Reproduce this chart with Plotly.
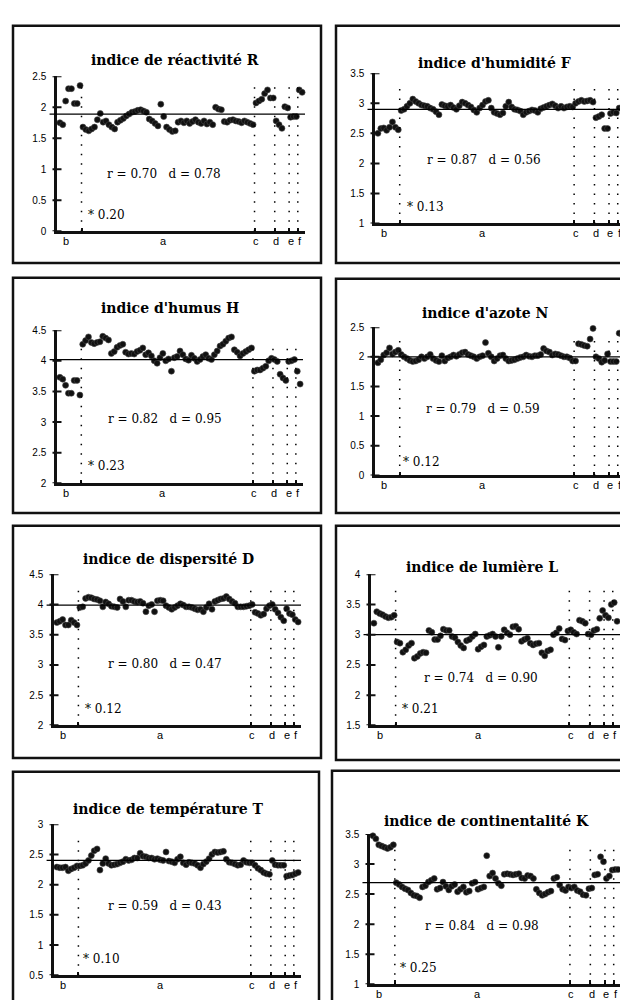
import plotly.graph_objects as go

# ---------------- data ----------------
GROUP_LABELS = ["b", "a", "c", "d", "e", "f"]
GROUP_SIZES = [8, 60, 7, 5, 3, 2]
LABEL_X = [3, 37, 69, 76, 81, 84.3]

TITLES = ["indice de réactivité R", "indice d'humidité F",
          "indice d'humus H", "indice d'azote N",
          "indice de dispersité D", "indice de lumière L",
          "indice de température T", "indice de continentalité K"]

R_VALUES = [1.75, 1.72, 2.10, 2.30, 2.30, 2.06, 2.06, 2.35,
            1.68, 1.64, 1.62, 1.65, 1.68, 1.80, 1.90, 1.76, 1.78, 1.72, 1.68, 1.65, 1.76, 1.79, 1.82,
            1.86, 1.89, 1.92, 1.93, 1.95, 1.96, 1.94, 1.92, 1.81, 1.78, 1.74, 1.70, 2.05, 1.85, 1.68,
            1.64, 1.61, 1.62, 1.76, 1.78, 1.75, 1.78, 1.74, 1.77, 1.80, 1.76, 1.74, 1.78, 1.73, 1.76,
            1.72, 2.00, 1.97, 1.96, 1.77, 1.76, 1.79, 1.80, 1.78, 1.77, 1.75, 1.78, 1.76, 1.74, 1.72,
            2.07, 2.10, 2.13, 2.22, 2.28, 2.15, 2.15,
            1.78, 1.72, 1.66, 2.01, 1.99,
            1.84, 1.85, 1.85,
            2.28, 2.24]
F_VALUES = [2.50, 2.58, 2.59, 2.55, 2.60, 2.69, 2.60, 2.56,
            2.88, 2.90, 2.95, 3.00, 3.07, 3.03, 3.00, 2.97, 2.96, 2.95, 2.92, 2.90, 2.86, 2.81, 2.98,
            2.96, 2.95, 2.97, 2.93, 2.90, 2.96, 3.02, 3.00, 2.97, 2.94, 2.89, 2.85, 2.92, 2.97, 3.03,
            3.05, 2.92, 2.85, 2.83, 2.81, 2.84, 2.95, 3.02, 2.94, 2.90, 2.89, 2.87, 2.81, 2.85, 2.87,
            2.89, 2.88, 2.85, 2.91, 2.93, 2.95, 2.97, 2.99, 2.96, 2.92, 2.95, 2.92, 2.94, 2.95, 2.94,
            3.00, 3.03, 3.05, 3.03, 3.04, 3.05, 3.02,
            2.76, 2.78, 2.81, 2.58, 2.58,
            2.83, 2.85, 2.84,
            2.92, 2.91]
H_VALUES = [3.73, 3.70, 3.60, 3.47, 3.47, 3.68, 3.68, 3.44,
            4.27, 4.33, 4.39, 4.30, 4.28, 4.30, 4.31, 4.40, 4.37, 4.34, 4.12, 4.15, 4.22, 4.25, 4.27,
            4.14, 4.11, 4.12, 4.11, 4.15, 4.17, 4.21, 4.10, 4.13, 4.08, 4.00, 3.96, 4.05, 4.12, 4.00,
            4.03, 3.83, 4.05, 4.07, 4.16, 4.10, 4.03, 4.01, 4.09, 4.04, 3.99, 4.02, 4.07, 4.10, 4.04,
            4.02, 4.10, 4.16, 4.24, 4.27, 4.32, 4.37, 4.39, 4.18, 4.14, 4.08, 4.12, 4.15, 4.18, 4.21,
            3.83, 3.85, 3.85, 3.88, 3.91, 4.00, 4.04,
            4.02, 3.99, 3.78, 3.72, 3.68,
            3.99, 4.00, 4.02,
            3.83, 3.62]
N_VALUES = [1.90, 1.95, 2.03, 2.07, 2.15, 2.05, 2.08, 2.11,
            2.04, 2.00, 1.97, 1.94, 1.92, 1.93, 1.95, 2.00, 1.97, 2.00, 2.04, 1.97, 1.94, 1.92, 2.02,
            1.93, 1.98, 2.00, 2.03, 2.01, 2.04, 2.07, 2.08, 2.04, 2.02, 2.00, 1.97, 2.00, 2.02, 2.24,
            2.06, 2.00, 1.93, 1.97, 2.02, 2.03, 1.97, 1.93, 1.94, 1.95, 1.97, 1.99, 2.00, 2.03, 2.01,
            2.00, 2.02, 2.02, 2.04, 2.14, 2.10, 2.08, 2.03, 2.05, 2.04, 2.02, 2.00, 2.00, 1.98, 1.93,
            1.93, 2.22, 2.21, 2.19, 2.18, 2.30, 2.48,
            2.00, 1.97, 1.91, 1.94, 2.05,
            1.92, 1.92, 1.92,
            2.40, 2.38]
D_VALUES = [3.70, 3.72, 3.75, 3.66, 3.66, 3.74, 3.70, 3.66,
            3.95, 3.96, 4.10, 4.12, 4.11, 4.09, 4.08, 4.06, 3.96, 4.04, 4.01, 3.97, 3.96, 3.95, 4.09,
            4.05, 3.96, 4.07, 4.07, 4.05, 4.04, 4.05, 4.02, 3.88, 3.98, 4.00, 3.88, 4.06, 4.07, 4.06,
            3.98, 3.95, 3.92, 3.95, 3.98, 4.01, 3.99, 3.96, 3.96, 3.95, 3.93, 3.91, 3.92, 3.88, 3.95,
            4.01, 3.92, 4.05, 4.07, 4.09, 4.10, 4.13, 4.09, 4.05, 4.02, 3.96, 3.96, 3.96, 3.97, 3.98,
            4.00, 3.87, 3.85, 3.82, 3.84, 3.93, 3.98,
            4.00, 3.92, 3.86, 3.79, 3.73,
            3.93, 3.85, 3.83,
            3.75, 3.71]
L_VALUES = [3.19, 3.38, 3.35, 3.33, 3.30, 3.28, 3.29, 3.32,
            2.88, 2.86, 2.71, 2.75, 2.82, 2.86, 2.61, 2.64, 2.69, 2.71, 2.70, 3.07, 3.04, 2.92, 2.92,
            2.98, 3.09, 3.07, 3.07, 2.97, 2.95, 2.88, 2.82, 2.78, 2.90, 2.92, 2.97, 3.01, 2.76, 2.80,
            2.83, 2.97, 2.99, 3.01, 2.97, 2.79, 2.97, 3.08, 3.03, 3.00, 3.13, 3.14, 3.09, 2.89, 2.92,
            2.94, 2.86, 2.83, 2.85, 2.86, 2.70, 2.65, 2.73, 2.75, 3.00, 3.03, 3.10, 2.93, 2.91, 3.06,
            3.08, 3.04, 3.01, 3.24, 3.22, 3.19, 3.01,
            3.00, 3.07, 3.09, 3.27, 3.40,
            3.32, 3.28, 3.50,
            3.53, 3.22]
T_VALUES = [2.29, 2.28, 2.28, 2.29, 2.23, 2.26, 2.28, 2.31,
            2.31, 2.32, 2.35, 2.40, 2.48, 2.56, 2.59, 2.24, 2.35, 2.43, 2.35, 2.32, 2.33, 2.34, 2.36,
            2.38, 2.42, 2.40, 2.41, 2.44, 2.44, 2.52, 2.47, 2.46, 2.44, 2.44, 2.42, 2.43, 2.41, 2.40,
            2.54, 2.39, 2.38, 2.36, 2.42, 2.46, 2.36, 2.33, 2.37, 2.36, 2.35, 2.32, 2.28, 2.34, 2.38,
            2.43, 2.50, 2.54, 2.53, 2.54, 2.55, 2.42, 2.37, 2.36, 2.34, 2.32, 2.33, 2.40, 2.37, 2.36,
            2.36, 2.32, 2.27, 2.24, 2.20, 2.18, 2.17,
            2.40, 2.33, 2.32, 2.32, 2.32,
            2.14, 2.15, 2.16,
            2.18, 2.20]
K_VALUES = [3.47, 3.42, 3.32, 3.30, 3.28, 3.26, 3.28, 3.32,
            2.69, 2.66, 2.62, 2.59, 2.57, 2.52, 2.48, 2.47, 2.44, 2.62, 2.64, 2.70, 2.73, 2.76, 2.58,
            2.60, 2.70, 2.63, 2.57, 2.63, 2.66, 2.54, 2.58, 2.62, 2.53, 2.55, 2.68, 2.70, 2.58, 2.60,
            2.62, 3.14, 2.80, 2.85, 2.76, 2.68, 2.64, 2.83, 2.84, 2.83, 2.82, 2.83, 2.84, 2.77, 2.76,
            2.81, 2.80, 2.76, 2.58, 2.52, 2.48, 2.50, 2.53, 2.55, 2.76, 2.78, 2.65, 2.58, 2.56, 2.62,
            2.60, 2.62, 2.56, 2.54, 2.49, 2.48, 2.59,
            2.60, 2.82, 2.83, 3.12, 3.04,
            2.76, 2.80, 2.90,
            2.91, 2.91]

SERIES = [R_VALUES, F_VALUES, H_VALUES, N_VALUES, D_VALUES, L_VALUES, T_VALUES, K_VALUES]
MEANS = [1.89, 2.90, 4.02, 2.00, 3.99, 3.00, 2.40, 2.69]
Y_RANGES = [(0, 2.5), (1, 3.5), (2, 4.5), (0, 2.5), (2, 4.5), (1.5, 4), (0.5, 3), (1, 3.5)]
Y_TICKS = [[0, 0.5, 1, 1.5, 2, 2.5], [1, 1.5, 2, 2.5, 3, 3.5],
           [2, 2.5, 3, 3.5, 4, 4.5], [0, 0.5, 1, 1.5, 2, 2.5],
           [2, 2.5, 3, 3.5, 4, 4.5], [1.5, 2, 2.5, 3, 3.5, 4],
           [0.5, 1, 1.5, 2, 2.5, 3], [1, 1.5, 2, 2.5, 3, 3.5]]
R_STATS = ["0.70", "0.87", "0.82", "0.79", "0.80", "0.74", "0.59", "0.84"]
D_STATS = ["0.78", "0.56", "0.95", "0.59", "0.47", "0.90", "0.43", "0.98"]
STAR_VALUES = ["0.20", "0.13", "0.23", "0.12", "0.12", "0.21", "0.10", "0.25"]

# ---------------- layout geometry (pixels) ----------------
W, H = 628, 1000
PLOT_BOX = [(49, 297, 63, 220), (367, 617, 60, 212),
            (49, 295, 320, 475), (367, 617, 317, 467),
            (46, 293, 567, 720), (363, 612, 567, 720),
            (46, 293, 820, 973), (362, 613, 830, 982)]
FRAMES = [(5, 313, 12, 252), (328, 650, 12, 252),
          (5, 313, 267, 505), (328, 650, 268, 505),
          (5, 313, 518, 753), (328, 650, 518, 755),
          (5, 311, 767, 1020), (324, 650, 766, 1020)]
TITLE_POS = [(167, 47), (486, 50), (162, 298), (477, 303),
             (160, 552), (474, 560), (160, 805), (478, 817)]
STATS_POS = [(0.43, 0.37), (0.436, 0.42), (0.44, 0.42), (0.43, 0.45),
             (0.45, 0.405), (0.44, 0.31), (0.45, 0.46), (0.446, 0.39)]
STAR_POS = [(0.117, 0.108), (0.12, 0.11), (0.118, 0.116), (0.105, 0.093),
            (0.117, 0.11), (0.116, 0.11), (0.11, 0.105), (0.11, 0.11)]

X_RANGE = [0, 86]
boundaries = []
acc = 0
for s in GROUP_SIZES[:-1]:
    acc += s
    boundaries.append(acc + 0.5)

SERIF = "DejaVu Serif"
SANS = "Liberation Sans"
INK = "#111111"

def px(x):
    return x / W

def py(y):
    return 1 - y / H

fig = go.Figure()
shapes = []
annotations = []
layout = dict(width=W, height=H, margin=dict(l=0, r=0, t=0, b=0),
              paper_bgcolor="white", plot_bgcolor="white", showlegend=False)

def fmt(v):
    return ("%g" % v)

for k in range(8):
    n = k + 1
    sfx = "" if n == 1 else str(n)
    xa, ya = "x" + sfx, "y" + sfx
    x0, x1, yt, yb = PLOT_BOX[k]
    ymin, ymax = Y_RANGES[k]
    vals = SERIES[k]
    tick_half = 4.5 / (x1 - x0)

    layout["xaxis" + sfx] = dict(domain=[px(x0), px(x1)], range=X_RANGE, anchor=ya,
                                 showline=True, linewidth=2.5, linecolor=INK,
                                 ticks="inside", tickvals=boundaries,
                                 ticklen=4, tickwidth=1.5, tickcolor=INK,
                                 showticklabels=False, showgrid=False,
                                 zeroline=False, fixedrange=True)
    layout["yaxis" + sfx] = dict(domain=[py(yb), py(yt)], range=[ymin, ymax], anchor=xa,
                                 showline=True, linewidth=2.5, linecolor=INK,
                                 ticks="", tickvals=Y_TICKS[k],
                                 ticktext=[fmt(t) for t in Y_TICKS[k]],
                                 tickfont=dict(family=SANS, size=10, color="black"),
                                 ticklabelstandoff=6, showgrid=False, zeroline=False,
                                 fixedrange=True)

    # data points
    fig.add_trace(go.Scatter(x=list(range(1, len(vals) + 1)), y=vals, xaxis=xa, yaxis=ya,
                             mode="markers", cliponaxis=False,
                             marker=dict(size=6, color="#111111",
                                         line=dict(width=0.6, color="#444444"))))

    # mean line
    shapes.append(dict(type="line", xref=xa + " domain", yref=ya, x0=-0.03, x1=1.0,
                       y0=MEANS[k], y1=MEANS[k], line=dict(color="black", width=1.2)))
    # dotted group boundaries
    for bnd in boundaries:
        shapes.append(dict(type="line", xref=xa, yref=ya + " domain", x0=bnd, x1=bnd,
                           y0=0, y1=0.93, line=dict(color="black", width=1.5, dash="1.5px,8px")))
    # cross tick marks on the y axis
    for t in Y_TICKS[k]:
        shapes.append(dict(type="line", xref=xa + " domain", yref=ya,
                           x0=-tick_half, x1=tick_half, y0=t, y1=t,
                           line=dict(color=INK, width=2)))
    # frame
    fx0, fx1, fy0, fy1 = FRAMES[k]
    shapes.append(dict(type="rect", xref="paper", yref="paper", x0=px(fx0), x1=px(fx1),
                       y0=py(fy1), y1=py(fy0), line=dict(color=INK, width=2.5),
                       fillcolor="rgba(0,0,0,0)"))

    # title
    tx, ty = TITLE_POS[k]
    annotations.append(dict(text="<b>" + TITLES[k] + "</b>", xref="paper", yref="paper",
                            x=px(tx), y=py(ty), xanchor="center", yanchor="middle",
                            showarrow=False, font=dict(family=SERIF, size=14, color="black")))
    # statistics
    sx, sy = STATS_POS[k]
    annotations.append(dict(text="r = " + R_STATS[k] + "\u00a0\u00a0\u00a0d = " + D_STATS[k],
                            xref=xa + " domain", yref=ya + " domain", x=sx, y=sy,
                            xanchor="center", yanchor="middle", showarrow=False,
                            font=dict(family=SERIF, size=12, color="black")))
    stx, sty = STAR_POS[k]
    annotations.append(dict(text="* " + STAR_VALUES[k], xref=xa + " domain", yref=ya + " domain",
                            x=stx, y=sty, xanchor="left", yanchor="middle", showarrow=False,
                            font=dict(family=SERIF, size=12, color="black")))
    # group labels
    for lab, lx in zip(GROUP_LABELS, LABEL_X):
        annotations.append(dict(text=lab, xref=xa, yref=ya + " domain", x=lx, y=0,
                                xanchor="center", yanchor="top", yshift=-2, showarrow=False,
                                font=dict(family=SANS, size=11, color="black")))

layout["shapes"] = shapes
layout["annotations"] = annotations
fig.update_layout(**layout)
fig.write_html("out.html")
